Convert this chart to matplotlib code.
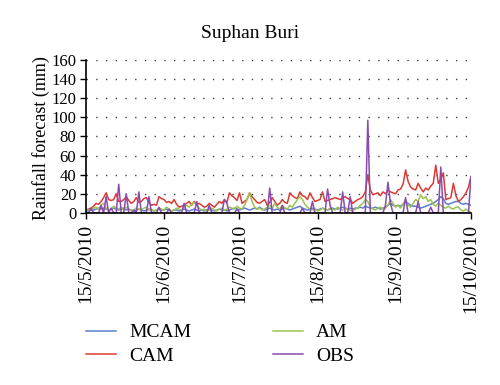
import matplotlib
matplotlib.use("Agg")
import matplotlib.pyplot as plt
import numpy as np

series_names = ["MCAM", "CAM", "AM", "OBS"]
tick_labels = ["15/5/2010", "15/6/2010", "15/7/2010", "15/8/2010", "15/9/2010", "15/10/2010"]
tick_days = [0, 31, 61, 92, 123, 153]

mcam = [2, 2, 3, 3, 4, 5, 4, 5, 4, 3, 4, 5, 4, 3, 4, 5, 3, 4, 3, 2,
        3, 4, 3, 2, 3, 4, 3, 2, 3, 4, 3, 3, 4, 3, 2, 3, 3, 2, 3, 4,
        3, 2, 3, 4, 3, 2, 3, 2, 3, 4, 3, 2, 3, 4, 3, 3, 2, 3, 4, 5,
        4, 3, 4, 5, 4, 3, 4, 5, 4, 6, 4, 3, 4, 5, 4, 3, 4, 3, 4, 5,
        4, 3, 4, 5, 6, 7, 5, 4, 3, 4, 5, 4, 3, 4, 5, 4, 3, 4, 5, 4,
        4, 5, 6, 5, 4, 5, 4, 5, 5, 6, 5, 7, 6, 5, 5, 6, 5, 4, 5, 6,
        8, 10, 8, 7, 8, 7, 9, 12, 10, 8, 7, 7, 6, 5, 6, 7, 8, 9, 10, 12,
        14, 17, 15, 10, 9, 10, 11, 12, 12, 10, 9, 10, 9, 8]

cam = [3, 4, 5, 7, 10, 9, 12, 16, 21, 14, 13, 14, 20, 12, 12, 14, 17, 13, 10, 12,
       16, 11, 12, 15, 16, 11, 8, 9, 8, 17, 15, 14, 11, 12, 10, 14, 9, 6, 7, 8,
       10, 12, 8, 12, 9, 10, 8, 6, 7, 10, 8, 6, 9, 12, 10, 14, 11, 21, 18, 16,
       13, 21, 10, 12, 14, 21, 17, 14, 11, 10, 12, 14, 8, 11, 16, 12, 8, 10, 14, 11,
       10, 21, 18, 16, 15, 22, 18, 17, 14, 21, 16, 12, 13, 14, 22, 12, 13, 14, 15, 16,
       15, 14, 16, 17, 15, 14, 10, 12, 14, 15, 17, 22, 40, 24, 19, 20, 21, 18, 22, 20,
       24, 22, 21, 20, 24, 25, 30, 45, 33, 27, 25, 24, 31, 26, 22, 26, 24, 28, 31, 50,
       31, 35, 42, 14, 15, 16, 31, 18, 12, 14, 17, 21, 27, 38]

am = [2, 3, 4, 5, 6, 4, 8, 10, 5, 3, 4, 7, 5, 4, 6, 3, 6, 4, 2, 3,
      5, 4, 3, 5, 6, 3, 4, 2, 3, 5, 4, 3, 6, 4, 2, 3, 5, 4, 3, 6,
      8, 6, 9, 11, 8, 5, 3, 4, 2, 3, 5, 3, 2, 4, 5, 3, 4, 6, 5, 4,
      7, 5, 4, 8, 14, 21, 12, 6, 4, 5, 3, 4, 6, 8, 5, 10, 6, 4, 8, 5,
      4, 8, 6, 10, 14, 17, 14, 9, 6, 4, 3, 4, 2, 3, 5, 4, 3, 5, 4, 3,
      6, 4, 3, 5, 4, 3, 2, 4, 5, 8, 10, 14, 12, 6, 4, 3, 5, 6, 4, 5,
      8, 14, 10, 6, 8, 5, 9, 14, 8, 6, 10, 14, 12, 19, 15, 17, 12, 14, 9, 7,
      10, 8, 6, 5, 7, 5, 4, 6, 6, 3, 2, 4, 2, 1]

obs = [0, 0, 5, 0, 0, 0, 8, 0, 17, 0, 5, 0, 0, 30, 0, 0, 20, 0, 0, 3,
       0, 22, 0, 0, 0, 17, 0, 0, 0, 6, 0, 0, 0, 4, 0, 0, 0, 0, 0, 10,
       0, 0, 0, 0, 12, 0, 0, 0, 0, 8, 0, 0, 0, 0, 0, 14, 10, 0, 0, 0,
       4, 0, 0, 0, 0, 0, 0, 0, 0, 0, 0, 0, 0, 26, 0, 0, 0, 0, 8, 0,
       0, 0, 0, 0, 0, 0, 5, 0, 0, 0, 12, 0, 0, 0, 0, 0, 25, 8, 0, 0,
       0, 0, 22, 0, 0, 17, 0, 0, 0, 0, 0, 0, 97, 0, 0, 0, 0, 0, 0, 8,
       32, 10, 0, 0, 0, 0, 0, 16, 0, 0, 0, 0, 12, 0, 0, 0, 0, 6, 0, 0,
       0, 48, 0, 0, 0, 0, 0, 0, 0, 0, 0, 0, 0, 38]

colors = ["#5b7fcc", "#dc3b35", "#9cc350", "#8a4bb0"]

plt.rcParams['font.family'] = ['Liberation Serif', 'DejaVu Serif']

fig = plt.figure(figsize=(5.0, 3.85), dpi=100)
ax = fig.add_axes([0.172, 0.447, 0.770, 0.397])

days = np.arange(len(cam))
handles = []
for name, vals, c in zip(series_names, [mcam, cam, am, obs], colors):
    h, = ax.plot(days, vals, color=c, lw=1.1, label=name)
    handles.append(h)

ax.set_xlim(0, 153)
ax.set_ylim(0, 160)
ax.set_yticks(np.arange(0, 161, 20))
ax.set_xticks(tick_days)
ax.set_xticklabels(tick_labels, rotation=90)
ax.tick_params(axis='both', length=4, width=1, direction='out', color='black')
ax.tick_params(axis='y', pad=3, labelsize=12)
ax.tick_params(axis='x', pad=4, labelsize=14)
for yv in range(20, 161, 20):
    ax.axhline(yv, color='#404040', lw=1.0, dashes=(1, 6), zorder=0)
for s in ['top', 'right']:
    ax.spines[s].set_visible(False)
for s in ['left', 'bottom']:
    ax.spines[s].set_linewidth(1.2)
    ax.spines[s].set_color('black')

fig.text(0.5, 1 - 33 / 385, "Suphan Buri", ha='center', va='center', fontsize=14)
fig.text(41 / 500, 1 - 138 / 385, "Rainfall forecast (mm)", rotation=90,
         ha='center', va='center', fontsize=13)

fig.legend(handles=handles, labels=series_names, ncol=2, frameon=False,
           loc='upper left', bbox_to_anchor=(80 / 500, 1 - 318 / 385),
           fontsize=14, handlelength=1.55, handletextpad=0.67,
           columnspacing=4.2, labelspacing=0.32, borderpad=0.3, borderaxespad=0)

fig.savefig("out.png", dpi=100)
